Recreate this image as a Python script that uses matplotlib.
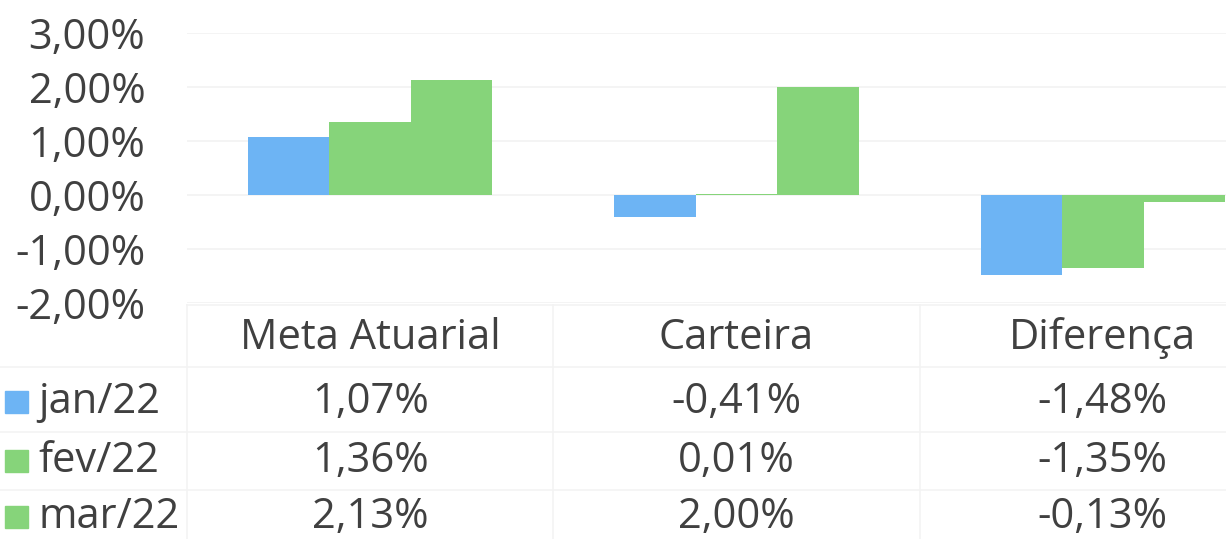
import matplotlib
matplotlib.use("Agg")
import matplotlib.pyplot as plt
from matplotlib.patches import Rectangle
import numpy as np

categories = ["Meta Atuarial", "Carteira", "Diferença"]
series_names = ["jan/22", "fev/22", "mar/22"]
jan22 = [1.07, -0.41, -1.48]
fev22 = [1.36, 0.01, -1.35]
mar22 = [2.13, 2.00, -0.13]
series_values = [jan22, fev22, mar22]
colors = ["#6db4f4", "#86d47a", "#86d47a"]
yticks = [3, 2, 1, 0, -1, -2]

plt.rcParams['font.family'] = ['Open Sans', 'DejaVu Sans']
TXT = "#404040"
FS = 30

W, H = 1226, 539
fig = plt.figure(figsize=(W / 100, H / 100), dpi=100)

# axes in pixel layout (extends beyond right edge like the cropped original)
ax_left, ax_right, ax_top, ax_bot = 187, 1286, 33, 303
ax = fig.add_axes([ax_left / W, 1 - ax_bot / H, (ax_right - ax_left) / W, (ax_bot - ax_top) / H])

x = np.arange(len(categories))
bw = 0.2224
for i, (name, vals) in enumerate(zip(series_names, series_values)):
    ax.bar(x + (i - 1) * bw, vals, width=bw, color=colors[i], label=name, zorder=2)

ax.set_xlim(-0.5, len(categories) - 0.5)
ax.set_ylim(-2, 3)
ax.set_yticks(yticks)
ax.set_yticklabels([f"{t:.2f}".replace(".", ",") + "%" for t in yticks], fontsize=FS, color=TXT)
ax.tick_params(axis='y', length=0, pad=30)
ax.set_xticks([])
for s in ax.spines.values():
    s.set_visible(False)
ax.grid(axis='y', color='#f2f2f2', lw=1.2, zorder=0)
ax.set_axisbelow(True)

# data table below the axes
def fy(py):
    return 1 - py / H

def fx(px):
    return px / W

cat_centers_px = [ax_left + (ax_right - ax_left) * (i + 0.5) / len(categories) for i in range(len(categories))]
header_y = 338
row_ys = [402, 461, 517]

for c, cx in zip(categories, cat_centers_px):
    fig.text(fx(cx), fy(header_y), c, ha='center', va='center', fontsize=FS, color=TXT)

for r, (name, vals) in enumerate(zip(series_names, series_values)):
    ry = row_ys[r]
    fig.patches.append(Rectangle((fx(5), fy(ry + 11)), fx(23), 22 / H,
                                 transform=fig.transFigure, color=colors[r], figure=fig))
    fig.text(fx(38), fy(ry), name, ha='left', va='center', fontsize=FS, color=TXT)
    for v, cx in zip(vals, cat_centers_px):
        fig.text(fx(cx), fy(ry), f"{v:.2f}".replace(".", ",") + "%",
                 ha='center', va='center', fontsize=FS, color=TXT)

# faint table borders
lc = '#f3f3f3'
for py in [305, 367, 432, 490]:
    x0 = 0 if py != 305 else ax_left
    fig.add_artist(plt.Line2D([fx(x0), 1], [fy(py), fy(py)], color=lc, lw=1.2, transform=fig.transFigure))
for i in range(len(categories)):
    px = ax_left + (ax_right - ax_left) * i / len(categories)
    fig.add_artist(plt.Line2D([fx(px), fx(px)], [fy(305), 0], color=lc, lw=1.2, transform=fig.transFigure))

fig.savefig("out.png", dpi=100, facecolor='white')
